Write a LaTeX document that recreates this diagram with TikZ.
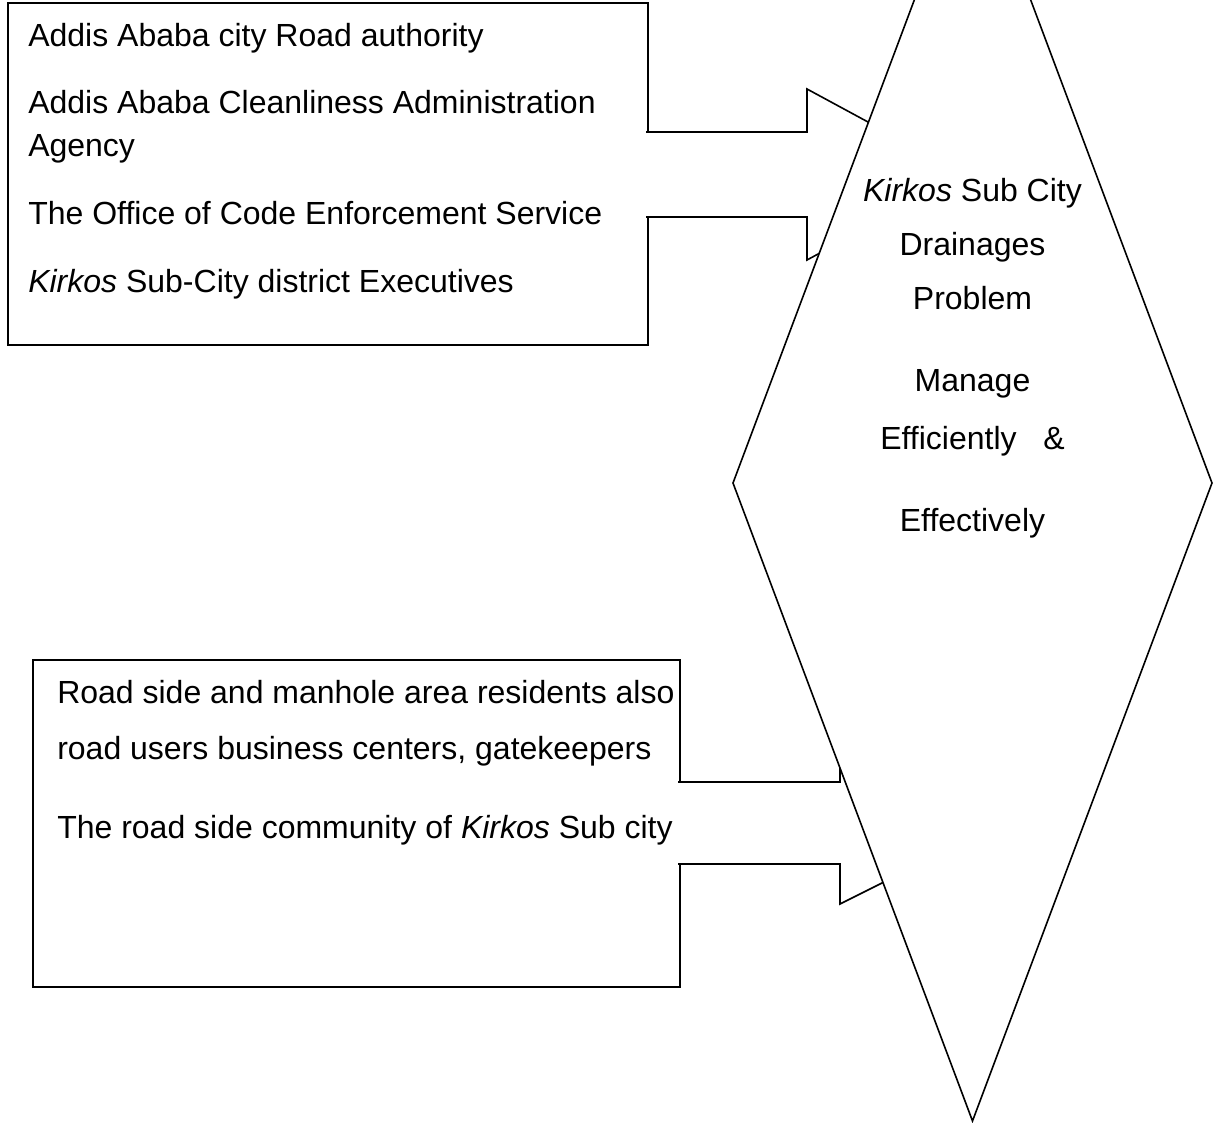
\documentclass[tikz,border=0pt]{standalone}
\usepackage{fontspec}
\setmainfont{Liberation Sans}
\usetikzlibrary{shapes.geometric,calc}

\begin{document}
\begin{tikzpicture}[x=0.75pt,y=0.75pt,yscale=-1,xscale=1,
    outline/.style={draw=black,line width=1.2pt,fill=white,inner sep=0pt,outer sep=0pt},
    txt/.style={font=\fontsize{24}{28}\selectfont,inner sep=0pt},
    lefttxt/.style={txt,anchor=base west},
    midtxt/.style={txt,anchor=base}]
        \path [use as bounding box] (0,0) rectangle (1214,1123);
        \clip (0,0) rectangle (1214,1123);

        %Shape: Rectangle [agencies]
        \node [outline,anchor=north west,minimum width=480pt,minimum height=256.5pt] (agencies) at (8,3) {};
        %Shape: Rectangle [community]
        \node [outline,anchor=north west,minimum width=485.25pt,minimum height=245.25pt] (community) at (33,660) {};

        %Shape: Right Arrow [agencies -> problem]
        \coordinate (tipA) at (965,174.5);
        \draw [outline] ($(agencies.north east)+(-2,129)$) -- ++(161,0) -- ++(0,-43) -- (tipA) -- ++(-158,85.5) -- ++(0,-43) -- ++(-161,0) ;
        %Shape: Right Arrow [community -> problem]
        \coordinate (tipB) at (1002,823);
        \draw [outline] ($(community.north east)+(-2,122)$) -- ++(162,0) -- ++(0,-40) -- (tipB) -- ++(-162,81) -- ++(0,-40) -- ++(-162,0) ;

        %Shape: Diamond [problem]
        \node [outline,shape=diamond,minimum width=359.25pt,minimum height=957pt] (problem) at (972.5,483) {};

        %Text Node
        \node [lefttxt] (roadauth) at (28,47) {Addis Ababa city Road authority};
        %Text Node
        \node [lefttxt] (cleanagency) at (28,114) {Addis Ababa Cleanliness Administration};
        %Text Node
        \node [lefttxt] (cleanagencyb) at (28,157) {Agency};
        %Text Node
        \node [lefttxt] (codeoffice) at (28,225) {The Office of Code Enforcement Service};
        %Text Node
        \node [lefttxt] (executives) at (28,293) {\textit{Kirkos} Sub-City district Executives};

        %Text Node
        \node [lefttxt] (residents) at (57,703) {Road side and manhole area residents also};
        %Text Node
        \node [lefttxt] (roadusers) at (57,759) {road users business centers, gatekeepers};
        %Text Node
        \node [lefttxt] (roadside) at (57,838) {The road side community of \textit{Kirkos} Sub city};

        %Text Node
        \node [midtxt] (subcity) at (972.5,202) {\textit{Kirkos} Sub City};
        %Text Node
        \node [midtxt] (drainages) at (972.5,256) {Drainages};
        %Text Node
        \node [midtxt] (probword) at (972.5,310) {Problem};
        %Text Node
        \node [midtxt] (manage) at (972.5,392) {Manage};
        %Text Node
        \node [midtxt] (efficiently) at (972.5,449) {Efficiently\hspace{20pt}\&};
        %Text Node
        \node [midtxt] (effectively) at (972.5,531) {Effectively};
    \end{tikzpicture}
\end{document}
